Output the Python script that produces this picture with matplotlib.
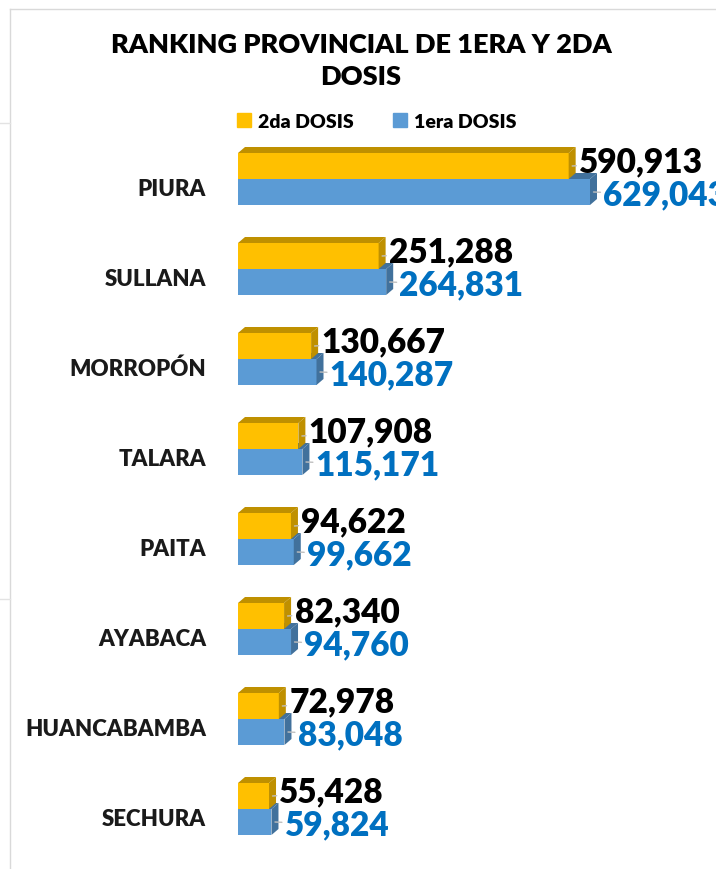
import numpy as np
import matplotlib.pyplot as plt
from matplotlib.patches import Polygon, Patch
from matplotlib.lines import Line2D

provincias = ["PIURA", "SULLANA", "MORROPÓN", "TALARA", "PAITA", "AYABACA", "HUANCABAMBA", "SECHURA"]
dosis2 = [590913, 251288, 130667, 107908, 94622, 82340, 72978, 55428]
dosis1 = [629043, 264831, 140287, 115171, 99662, 94760, 83048, 59824]

plt.rcParams['font.family'] = ['Lato', 'DejaVu Sans']
plt.rcParams['font.weight'] = 'bold'

amarillo, amarillo_osc = "#FFC000", "#BF9000"
azul, azul_osc = "#5B9BD5", "#41719C"

W, H = 716, 870
fig = plt.figure(figsize=(W / 100, H / 100), dpi=100)
fig.patch.set_facecolor("white")

# marco de la captura
fig.add_artist(Line2D([10 / W, 1], [1 - 10 / H, 1 - 10 / H], color="#D9D9D9", lw=1))
fig.add_artist(Line2D([10 / W, 10 / W], [0, 1 - 10 / H], color="#D9D9D9", lw=1))
fig.add_artist(Line2D([0, 10 / W], [1 - 124 / H, 1 - 124 / H], color="#E3E3E3", lw=1))
fig.add_artist(Line2D([0, 10 / W], [1 - 600 / H, 1 - 600 / H], color="#E3E3E3", lw=1))

ax = fig.add_axes([238 / W, 10 / H, 478 / W, 720 / H])
px = 629043 / 352.0          # unidades por pixel
xmax = 478 * px
ax.set_xlim(0, xmax)
ax.set_ylim(7 + 50 / 90, -40 / 90)

y = np.arange(len(provincias))
h = 26 / 90
dx, dy = 7 * px, 6 / 90

for i in range(len(provincias)):
    w1, w2 = dosis1[i], dosis2[i]
    yc = y[i]
    # barra azul (1era dosis)
    ax.add_patch(Polygon([(0, yc), (w1, yc), (w1 + dx, yc - dy), (dx, yc - dy)],
                         closed=True, fc=azul_osc, ec="none"))
    ax.barh(yc, w1, height=h, align="edge", color=azul, edgecolor="none")
    ax.add_patch(Polygon([(w1, yc), (w1, yc + h), (w1 + dx, yc + h - dy), (w1 + dx, yc - dy)],
                         closed=True, fc=azul_osc, ec="none"))
    # barra amarilla (2da dosis)
    ax.barh(yc - h, w2, height=h, align="edge", color=amarillo, edgecolor="none")
    ax.add_patch(Polygon([(0, yc - h), (w2, yc - h), (w2 + dx, yc - h - dy), (dx, yc - h - dy)],
                         closed=True, fc=amarillo_osc, ec="none"))
    ax.add_patch(Polygon([(w2, yc - h), (w2, yc), (w2 + dx, yc - dy), (w2 + dx, yc - h - dy)],
                         closed=True, fc=amarillo_osc, ec="none"))
    # etiquetas
    ax.annotate(f"{w2:,}", xy=(w2 + dx * 0.5, yc - h / 2), xytext=(5, 3),
                textcoords="offset points", ha="left", va="center", fontsize=24,
                fontweight="heavy", color="black",
                arrowprops=dict(arrowstyle="-", color="#BFBFBF", lw=1, shrinkA=0, shrinkB=0))
    ax.annotate(f"{w1:,}", xy=(w1 + dx * 0.5, yc + h / 2), xytext=(7, -2),
                textcoords="offset points", ha="left", va="center", fontsize=24,
                fontweight="heavy", color="#0070C0",
                arrowprops=dict(arrowstyle="-", color="#BFBFBF", lw=1, shrinkA=0, shrinkB=0))

ax.set_yticks(y + 0.08)
ax.set_yticklabels(provincias, fontsize=16, fontweight="heavy", color="#1A1A1A")
ax.tick_params(axis="y", length=0, pad=23)
ax.set_xticks([])
for s in ax.spines.values():
    s.set_visible(False)

fig.text(361 / W, 1 - 33 / H, "RANKING PROVINCIAL DE 1ERA Y 2DA\nDOSIS", ha="center", va="top",
         fontsize=19.5, fontweight="heavy", color="black", linespacing=1.4)

handles = [Patch(color=amarillo), Patch(color=azul)]
fig.legend(handles, ["2da DOSIS", "1era DOSIS"], loc="center", bbox_to_anchor=(377 / W, 1 - 122 / H),
           ncol=2, frameon=False, handlelength=0.7, handleheight=0.7,
           handletextpad=0.4, columnspacing=2.0, prop={"weight": "heavy", "size": 14})

fig.savefig("out.png", dpi=100)
